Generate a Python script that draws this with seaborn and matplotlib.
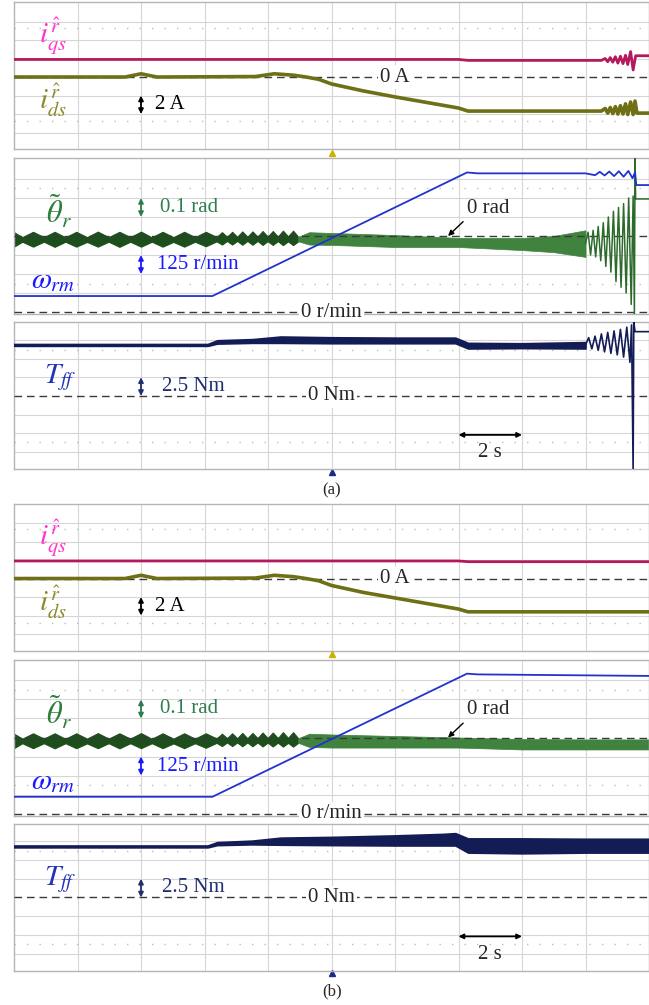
import matplotlib
matplotlib.use("Agg")
import matplotlib.pyplot as plt
import seaborn as sns

# === Values (time in s) ===
grid_t = [2, 4, 6, 8, 10, 12, 14, 16, 18]

# i_qs (A)
t_iqs_a = [0, 6.2, 14.0, 14.3, 18.5, 18.62, 18.7, 18.78, 18.86, 18.94, 19.02, 19.1,
           19.18, 19.26, 19.33, 19.42, 19.5, 19.58, 20.0]
iqs_a = [1.9, 1.9, 1.9, 1.8, 1.8, 2.0, 1.65, 2.1, 1.6, 2.2, 1.5, 2.25,
         1.45, 2.35, 1.35, 2.75, 0.76, 2.3, 2.3]
t_iqs_b = [0, 6.2, 14.0, 14.3, 20.0]
iqs_b = [1.9, 1.9, 1.9, 1.82, 1.82]

# i_ds (A)
t_ids_a = [0, 3.5, 4.0, 4.5, 7.6, 8.2, 8.8, 9.2, 9.6, 10.0, 11.0, 12.0, 13.0, 14.0, 14.3,
           18.5, 18.62, 18.7, 18.78, 18.86, 18.94, 19.02, 19.1, 19.18, 19.26, 19.33,
           19.42, 19.5, 19.56, 19.62, 20.0]
ids_a = [0, 0, 0.35, 0, 0.05, 0.35, 0.2, 0, -0.25, -0.75, -1.5, -2.15, -2.75, -3.35, -3.68,
         -3.68, -3.4, -3.9, -3.3, -3.95, -3.2, -4.0, -3.1, -4.0, -2.9, -4.05,
         -2.7, -4.05, -2.6, -3.9, -3.9]
t_ids_b = [0, 3.5, 4.0, 4.5, 7.6, 8.2, 8.8, 9.2, 9.6, 10.0, 11.0, 12.0, 13.0, 14.0, 14.3, 20.0]
ids_b = [0, 0, 0.35, 0, 0.05, 0.35, 0.2, 0, -0.25, -0.75, -1.5, -2.1, -2.7, -3.3, -3.6, -3.6]

# speed w_rm (r/min)
t_w_a = [0, 6.25, 14.27, 14.6, 18.0, 18.3, 18.45, 18.6, 18.75, 18.9, 19.05, 19.2,
         19.35, 19.48, 19.56, 19.6, 20.0]
w_a = [105, 105, 918, 912, 912, 900, 922, 898, 924, 894, 926, 890,
       928, 880, 918, 835, 835]
t_w_b = [0, 6.25, 14.27, 14.6, 20.0]
w_b = [110, 110, 920, 915, 905]

# position error theta (rad): band envelope before the speed ramp gets going
t_th_early = [0.0, 0.26, 0.6, 0.94, 1.28, 1.62, 1.96, 2.30, 2.64, 2.98, 3.32, 3.66,
              4.0, 4.34, 4.68, 5.02, 5.36, 5.70, 6.04, 6.38, 6.55, 6.71, 6.87, 7.03,
              7.19, 7.35, 7.51, 7.67, 7.83, 7.99, 8.15, 8.31, 8.47, 8.63, 8.79, 8.95]
th_early_hi = [0.020, -0.006, 0.022, -0.006, 0.022, -0.007, 0.022, -0.006, 0.023, -0.006,
               0.022, -0.006, 0.023, -0.007, 0.022, -0.006, 0.022, -0.006, 0.022, -0.005,
               0.020, -0.004, 0.022, -0.004, 0.024, -0.004, 0.024, -0.003, 0.026, -0.003,
               0.026, -0.003, 0.028, -0.002, 0.028, -0.004]
th_early_lo = [-0.056, -0.030, -0.056, -0.030, -0.057, -0.030, -0.056, -0.031, -0.056, -0.030,
               -0.057, -0.030, -0.056, -0.030, -0.056, -0.031, -0.056, -0.030, -0.054, -0.028,
               -0.045, -0.026, -0.045, -0.026, -0.046, -0.026, -0.046, -0.026, -0.047, -0.027,
               -0.047, -0.027, -0.048, -0.028, -0.048, -0.028]
t_th_dense_a = [8.95, 9.3, 10, 12, 14, 16, 17, 18.0]
th_dense_hi_a = [-0.004, 0.02, 0.016, 0.005, -0.01, -0.01, 0.0, 0.03]
th_dense_lo_a = [-0.028, -0.045, -0.047, -0.058, -0.058, -0.074, -0.085, -0.11]
t_th_end_a = [18.0, 18.08, 18.16, 18.24, 18.32, 18.4, 18.48, 18.56, 18.64, 18.72, 18.8,
              18.88, 18.96, 19.04, 19.12, 19.2, 19.28, 19.36, 19.44, 19.5, 19.54, 19.56,
              19.58, 20.0]
th_end_a = [-0.04, 0.02, -0.1, 0.03, -0.11, 0.05, -0.13, 0.07, -0.16, 0.1, -0.19,
            0.13, -0.24, 0.15, -0.27, 0.17, -0.3, 0.2, -0.36, 0.21, -0.41, 0.41,
            0.195, 0.195]
t_th_dense_b = [8.95, 9.3, 10, 12, 14, 16, 18, 20]
th_dense_hi_b = [-0.004, 0.02, 0.016, 0.008, 0.0, -0.008, -0.01, -0.01]
th_dense_lo_b = [-0.028, -0.05, -0.053, -0.053, -0.053, -0.063, -0.063, -0.063]

# feed-forward torque T_ff (Nm), band envelope
t_T_a = [0, 6.1, 6.4, 7.5, 8.4, 10, 12, 13.9, 14.3, 16, 18]
T_hi_a = [6.95, 6.95, 7.45, 7.6, 7.95, 7.85, 7.8, 7.8, 7.1, 7.05, 7.2]
T_lo_a = [6.7, 6.7, 7.0, 7.1, 7.1, 7.05, 7.05, 7.05, 6.35, 6.4, 6.35]
t_T_end_a = [18.0, 18.1, 18.2, 18.3, 18.4, 18.5, 18.6, 18.7, 18.8, 18.9, 19.0, 19.1,
             19.2, 19.3, 19.4, 19.45, 19.5, 19.52, 19.56, 20.0]
T_end_a = [6.8, 7.8, 6.3, 8.0, 6.1, 8.3, 5.9, 8.5, 5.7, 8.7, 5.5, 8.9,
           5.2, 9.2, 4.5, 9.5, -9.8, 9.9, 8.6, 8.6]
t_T_b = [0, 6.1, 6.4, 7.5, 8.4, 10, 12, 13.5, 13.9, 14.3, 16, 18, 20]
T_hi_b = [6.95, 6.95, 7.4, 7.6, 8.0, 8.1, 8.3, 8.5, 8.6, 7.9, 7.9, 7.85, 7.85]
T_lo_b = [6.7, 6.7, 7.0, 7.1, 7.05, 7.0, 6.95, 6.95, 6.95, 6.0, 5.9, 6.0, 6.0]

# colours
C_IQS, C_IDS = "#b3195c", "#6f6f16"
C_TH, C_TH2 = "#1d4f1d", "#3f833f"
C_W, C_T = "#2233cc", "#141c55"
C_GRID = "#d6d6d6"

sns.set_theme(style="white")
plt.rcParams["font.family"] = ["Liberation Serif", "DejaVu Serif"]
plt.rcParams["mathtext.fontset"] = "stix"

W, H = 649, 1005
fig = plt.figure(figsize=(W / 100, H / 100), dpi=100)
fig.patch.set_facecolor("white")


def panel(y0, y1, ylim, rows, dots):
    ax = fig.add_axes([14 / W, 1 - y1 / H, (W - 14) / W, (y1 - y0) / H])
    ax.set_xlim(0, 20)
    ax.set_ylim(*ylim)
    ax.set_xticks([])
    ax.set_yticks([])
    ax.set_facecolor("white")
    for s in ax.spines.values():
        s.set_color("#b5b5b5")
        s.set_linewidth(1.0)
    for t in grid_t:
        ax.axvline(t, color=C_GRID, lw=0.8, zorder=0)
    for r in rows:
        ax.axhline(r, color=C_GRID, lw=0.8, zorder=0)
    for d in dots:
        ax.axhline(d, color="#bdbdbd", lw=1.0, ls=(0, (1, 8)), zorder=0)
    return ax


def zero(ax, y, label=None, x=10):
    ax.axhline(y, color="#3a3a3a", lw=1.0, ls=(0, (5.5, 3.5)), zorder=3)
    if label:
        ax.text(x, y, label, ha="center", va="center", fontsize=15, zorder=6, clip_on=False,
                bbox=dict(facecolor="white", edgecolor="none", pad=1.5))


def scale_arrow(ax, t, y1, y2, color, label, ty, tx):
    ax.annotate("", xy=(t, y1), xytext=(t, y2),
                arrowprops=dict(arrowstyle="<|-|>", color=color, lw=1.3, mutation_scale=7,
                                shrinkA=0, shrinkB=0))
    ax.text(tx, ty, label, color=color, fontsize=15, ha="left", va="center")


def line(ax, t, v, color, lw):
    sns.lineplot(x=t, y=v, ax=ax, color=color, lw=lw, estimator=None, sort=False, zorder=4)


def half(dy, tag, iq, idd, w, th_dense, th_end, T_band, T_end):
    # currents
    ax = panel(2 + dy, 149 + dy, (-7.78, 8.11), [-6, -4, -2, 2, 4, 6], [5.3, -4.8])
    zero(ax, 0, "0 A", 12.0)
    line(ax, iq[0], iq[1], C_IQS, 2.0)
    line(ax, idd[0], idd[1], C_IDS, 2.6)
    ax.text(0.8, 4.4, r"$i_{qs}^{\hat{r}}$", color="#ff33cc", fontsize=21, va="center")
    ax.text(0.8, -2.5, r"$i_{ds}^{\hat{r}}$", color="#8b8b2a", fontsize=21, va="center")
    scale_arrow(ax, 4.0, -2.0, -4.0, "black", "2 A", -3.0, 4.45)

    # position error + speed
    ax = panel(158 + dy, 314 + dy, (-0.4105, 0.4105),
               [-0.3, -0.2, -0.1, 0.1, 0.2, 0.3], [0.25, -0.25])
    ax.fill_between(t_th_early, th_early_hi, th_early_lo, color=C_TH, lw=0.8, zorder=2)
    ax.fill_between(th_dense[0], th_dense[1], th_dense[2], color=C_TH2, lw=0.5, zorder=2)
    if th_end is not None:
        line(ax, th_end[0], th_end[1], "#2d6b2d", 1.1)
    zero(ax, 0)
    zero(ax, -0.4, "0 r/min", 10)
    ax.annotate("0 rad", xy=(13.67, 0.0), xytext=(14.95, 0.147), fontsize=15,
                ha="center", va="center", zorder=6,
                arrowprops=dict(arrowstyle="-|>", color="black", lw=1.0, mutation_scale=8,
                                relpos=(0.0, 0.0), shrinkA=1, shrinkB=0))
    ax.text(1.0, 0.125, r"$\tilde{\theta}_r$", color="#2e7d3a", fontsize=22, va="center")
    ax.text(0.55, -0.235, r"$\omega_{rm}$", color="#1a1aff", fontsize=21, va="center")
    scale_arrow(ax, 4.0, 0.1, 0.2, "#2e7d4f", "0.1 rad", 0.152, 4.6)
    scale_arrow(ax, 4.0, -0.1, -0.2, "#1a1aff", "125 r/min", -0.15, 4.5)
    ax.plot([10], [0.437], marker="^", ms=5, color="#c9b400", clip_on=False)
    axw = ax.twinx()
    axw.set_ylim(-13.2, 1013)
    axw.set_yticks([])
    for s in axw.spines.values():
        s.set_visible(False)
    line(axw, w[0], w[1], C_W, 1.3)

    # torque
    ax = panel(322 + dy, 469 + dy, (-9.76, 9.89),
               [-7.5, -5, -2.5, 2.5, 5, 7.5], [6.2, -6.2])
    zero(ax, 0, "0 Nm", 10)
    ax.fill_between(T_band[0], T_band[1], T_band[2], color=C_T, lw=1.2, zorder=4)
    if T_end is not None:
        line(ax, T_end[0], T_end[1], C_T, 1.2)
    ax.text(0.95, 2.4, r"$T_{ff}$", color="#2233bb", fontsize=21, va="center")
    scale_arrow(ax, 4.0, 2.5, 0.0, "#1f2f6f", "2.5 Nm", 1.3, 4.65)
    ax.annotate("", xy=(14, -5.2), xytext=(16, -5.2),
                arrowprops=dict(arrowstyle="<|-|>", color="black", lw=1.3, mutation_scale=7,
                                shrinkA=0, shrinkB=0))
    ax.text(15, -7.6, "2 s", fontsize=15, ha="center", va="center")
    ax.plot([10], [-10.1], marker="^", ms=4, color="#1a2a8a", clip_on=False)
    fig.text(332 / W, 1 - (490 + dy) / H, tag, ha="center", va="center", fontsize=12)


half(0, "(a)", (t_iqs_a, iqs_a), (t_ids_a, ids_a), (t_w_a, w_a),
     (t_th_dense_a, th_dense_hi_a, th_dense_lo_a), (t_th_end_a, th_end_a),
     (t_T_a, T_hi_a, T_lo_a), (t_T_end_a, T_end_a))
half(501.5, "(b)", (t_iqs_b, iqs_b), (t_ids_b, ids_b), (t_w_b, w_b),
     (t_th_dense_b, th_dense_hi_b, th_dense_lo_b), None,
     (t_T_b, T_hi_b, T_lo_b), None)

fig.savefig("out.png", dpi=100)
